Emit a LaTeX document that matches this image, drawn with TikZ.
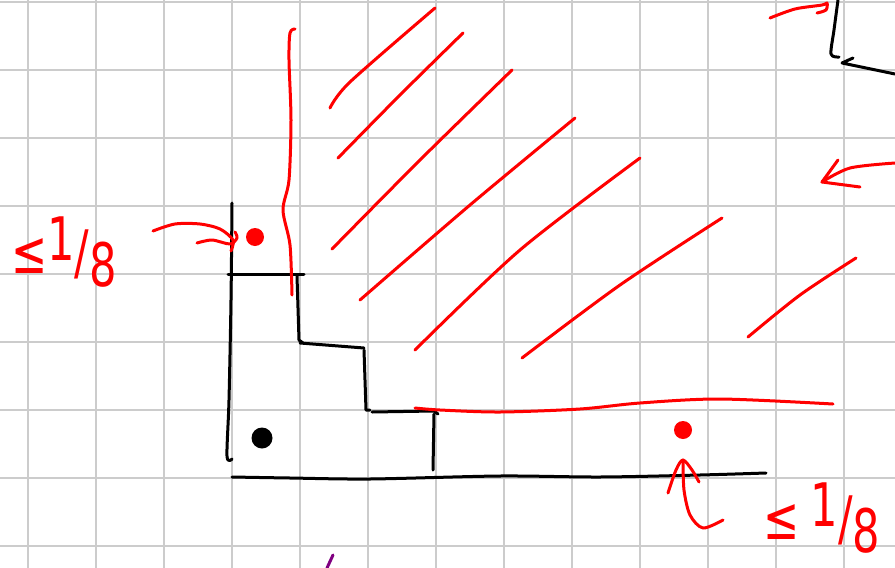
\documentclass[tikz,border=0pt]{standalone}
\usepackage{fontspec}
\usepackage{tikz}
\usetikzlibrary{arrows.meta}
\newfontfamily\handfont{DejaVu Sans}

\begin{document}
\begin{tikzpicture}[x=1pt, y=-1pt, line cap=round, line join=round,
  gridline/.style={draw=black!20, line width=2pt},
  ink/.style={draw=black, line width=3pt}, pen/.style={draw=red, line width=3pt},
  reddot/.style={circle, fill=red, minimum size=18pt, inner sep=0pt},
  blackdot/.style={circle, fill=black, minimum size=21pt, inner sep=0pt},
  bound/.style={text=red, inner sep=0pt, font=\handfont\fontsize{60}{60}\selectfont}]
\useasboundingbox (0,0) rectangle (895,568);
\foreach \gx in {28,96,...,844} \draw[gridline] (\gx,0) -- (\gx,568);
\foreach \gy in {2,70,...,546} \draw[gridline] (0,\gy) -- (895,\gy);
\draw[ink] plot[smooth] coordinates {(232,203) (231,300) (229,400) (227,456) (232,459)};
\draw[ink] (228,274) -- (304,274); \draw[ink] (297,276) -- (299,340) -- (303,343);
\draw[ink] (300,343) -- (364,348); \draw[ink] (364,350) -- (366,410) -- (370,410);
\draw[ink] (372,412) -- (434,411) -- (438,414); \draw[ink] (434,414) -- (433,470);
\draw[ink] plot[smooth] coordinates {(232,477) (290,478) (370,479) (500,476) (600,477) (700,475) (766,473)};
\draw[ink] plot[smooth] coordinates {(838,0) (834,30) (831,54) (839,57)};
\draw[ink] (853,58) -- (842,63) -- (895,74);
\node[blackdot] (own) at (262,438) {};
\node[reddot] (top) at (255,237) {}; \node[reddot] (side) at (683,430) {};
\draw[pen] plot[smooth] coordinates {(295,29) (290,33) (289,60) (291,120) (289,180) (283,210) (290,245) (292,295)};
\draw[pen] plot[smooth] coordinates {(330,108) (350,82) (435,8)};
\draw[pen] plot[smooth] coordinates {(338,158) (400,95) (463,33)};
\draw[pen] plot[smooth] coordinates {(332,249) (420,160) (512,70)};
\draw[pen] plot[smooth] coordinates {(360,300) (470,205) (575,118)};
\draw[pen] plot[smooth] coordinates {(415,350) (520,250) (640,158)};
\draw[pen] plot[smooth] coordinates {(522,358) (620,285) (722,218)};
\draw[pen] plot[smooth] coordinates {(748,337) (800,295) (856,258)};
\draw[pen] plot[smooth] coordinates {(415,408) (440,410) (500,412) (580,409) (640,403) (720,399) (833,404)};
\draw[pen] plot[smooth] coordinates {(153,231) (175,224) (200,224) (220,229) (233,240) (231,251)};
\draw[pen] plot[smooth] coordinates {(197,243) (212,240) (230,244) (237,238) (235,232)};
\draw[pen] plot[smooth] coordinates {(683,460) (684,490) (690,515) (703,528) (723,520)};
\draw[pen] plot[smooth] coordinates {(668,493) (676,470) (683,460) (692,470) (699,482)};
\draw[pen] plot[smooth] coordinates {(770,18) (795,9) (822,5) (827,3) (826,10) (817,13)};
\draw[pen] plot[smooth] coordinates {(895,163) (850,168) (822,182)};
\draw[pen] (838,160) -- (822,182) -- (860,187);
\draw[draw=violet, line width=3pt] (333,555) -- (327,568);
\node[bound] (lb) at (64,252) {\scalebox{0.72}[1]{≤\raisebox{0.4ex}{1}/\raisebox{-0.4ex}{8}}};
\node[bound] (rb) at (822,518) {\scalebox{0.72}[1]{≤\kern0.25em\raisebox{0.4ex}{1}/\raisebox{-0.4ex}{8}}};
\end{tikzpicture}
\end{document}
